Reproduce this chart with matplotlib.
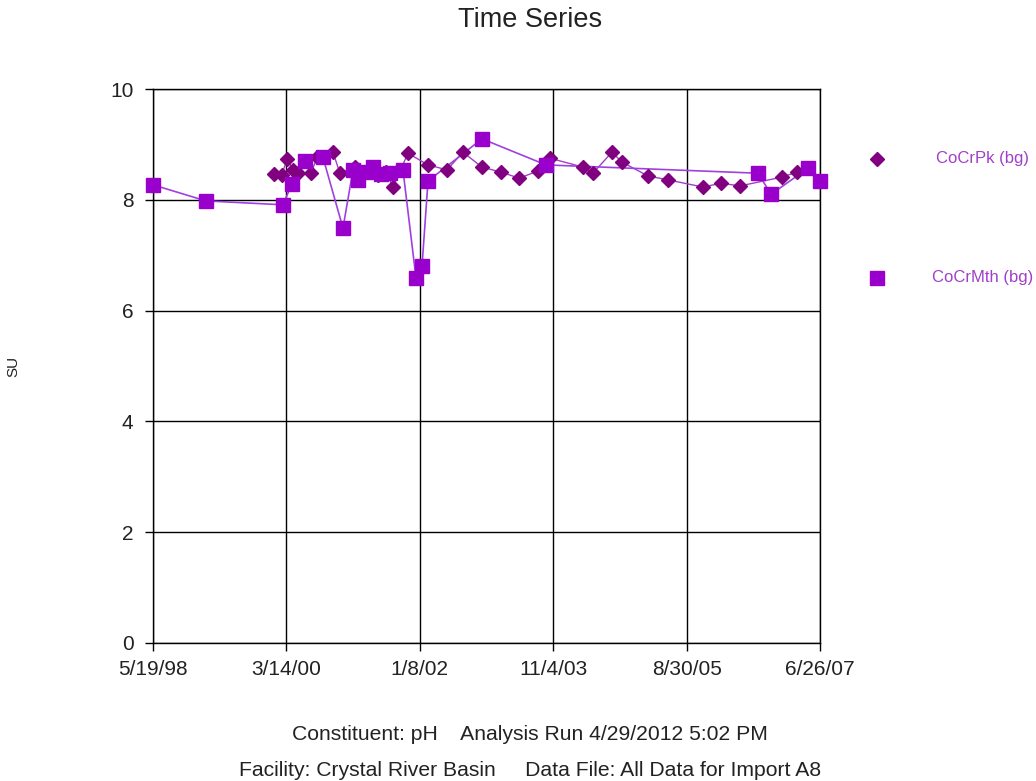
import matplotlib
matplotlib.use("Agg")
import matplotlib.pyplot as plt
import matplotlib.lines as mlines
import pandas as pd

plt.rcParams['font.family'] = ['Liberation Sans', 'DejaVu Sans']

# ---- data ----
pk_dates = ["2000-01-12", "2000-02-21", "2000-03-17", "2000-04-16", "2000-05-11",
            "2000-07-15", "2000-08-14", "2000-11-01", "2000-12-06", "2001-02-19",
            "2001-04-15", "2001-06-14", "2001-07-24", "2001-08-27", "2001-11-10",
            "2002-02-18", "2002-05-24", "2002-08-11", "2002-11-14", "2003-02-17",
            "2003-05-18", "2003-08-20", "2003-10-19", "2004-04-01", "2004-05-20",
            "2004-08-23", "2004-10-12", "2005-02-19", "2005-05-29", "2005-11-20",
            "2006-02-18", "2006-05-23", "2006-12-19", "2007-03-03"]
pk_values = [8.47, 8.45, 8.74, 8.54, 8.48,
             8.48, 8.77, 8.86, 8.48, 8.59,
             8.50, 8.45, 8.50, 8.23, 8.84,
             8.63, 8.54, 8.86, 8.59, 8.50,
             8.39, 8.52, 8.75, 8.59, 8.48,
             8.86, 8.68, 8.43, 8.36, 8.23,
             8.30, 8.25, 8.41, 8.50]

mth_dates = ["1998-05-19", "1999-02-07", "2000-02-26", "2000-04-11", "2000-06-15",
             "2000-09-12", "2000-12-21", "2001-02-09", "2001-03-06", "2001-04-15",
             "2001-05-20", "2001-06-29", "2001-08-12", "2001-10-16", "2001-12-20",
             "2002-01-19", "2002-02-18", "2002-11-14", "2003-09-29", "2006-08-21",
             "2006-10-25", "2007-04-27", "2007-06-26"]
mth_values = [8.27, 7.98, 7.91, 8.29, 8.70,
              8.77, 7.49, 8.54, 8.36, 8.50,
              8.59, 8.47, 8.48, 8.54, 6.59,
              6.80, 8.34, 9.10, 8.63, 8.48,
              8.10, 8.57, 8.34]

tick_dates = ["1998-05-19", "2000-03-14", "2002-01-08", "2003-11-04", "2005-08-30", "2007-06-26"]
tick_labels = ["5/19/98", "3/14/00", "1/8/02", "11/4/03", "8/30/05", "6/26/07"]
y_ticks = [0, 2, 4, 6, 8, 10]

series_names = ["CoCrPk (bg)", "CoCrMth (bg)"]

# ---- figure ----
fig = plt.figure(figsize=(10.36, 7.81), dpi=100)
ax = fig.add_axes([153/1036, 1 - 643/781, (820-153)/1036, (643-89)/781])

pk_x = pd.to_datetime(pk_dates)
mth_x = pd.to_datetime(mth_dates)

ax.plot(pk_x, pk_values, color='#a040c8', lw=1.0, zorder=3, clip_on=False)
ax.plot(pk_x, pk_values, linestyle='none', marker='D', ms=7.5, color='#800080',
        mec='#800080', zorder=4, clip_on=False)
ax.plot(mth_x, mth_values, color='#a040e0', lw=1.2, zorder=3, clip_on=False)
ax.plot(mth_x, mth_values, linestyle='none', marker='s', ms=10.5, color='#9900cc',
        mec='#9900cc', zorder=5, clip_on=False)

tx = pd.to_datetime(tick_dates)
ax.set_xlim(tx[0], tx[-1])
ax.set_ylim(0, 10)
ax.set_xticks(tx)
ax.set_xticklabels(tick_labels)
ax.set_yticks(y_ticks)
ax.set_yticklabels([str(v) for v in y_ticks])
ax.grid(True, color='black', lw=1.0)
ax.set_axisbelow(True)
for s in ax.spines.values():
    s.set_color('black')
    s.set_linewidth(1.0)
ax.tick_params(axis='both', direction='out', length=6, width=1, colors='black',
               labelsize=15)
ax.tick_params(axis='x', pad=6)
ax.tick_params(axis='y', pad=8)
for lbl in ax.get_xticklabels() + ax.get_yticklabels():
    lbl.set_color('#222222')

ax.set_ylabel("SU", fontsize=11, labelpad=0, color='#222222')
ax.yaxis.set_label_coords(-(153-20)/667, 0.5)

fig.text(530/1036, 1 - 20/781, "Time Series", ha='center', va='center', fontsize=19.5,
         color='#222222')
fig.text(530/1036, 1 - 734/781, "Constituent: pH    Analysis Run 4/29/2012 5:02 PM",
         ha='center', va='center', fontsize=15.2, color='#222222')
fig.text(530/1036, 1 - 770/781, "Facility: Crystal River Basin     Data File: All Data for Import A8",
         ha='center', va='center', fontsize=15.2, color='#222222')

# legend (manual, right side)
fig.lines.append(mlines.Line2D([877/1036], [1 - 159/781], transform=fig.transFigure,
                               marker='D', ms=7.5, color='#800080', linestyle='none'))
fig.lines.append(mlines.Line2D([877/1036], [1 - 278/781], transform=fig.transFigure,
                               marker='s', ms=10.5, color='#9900cc', linestyle='none'))
fig.text(983/1036, 1 - 159/781, series_names[0], ha='center', va='center', fontsize=12,
         color='#a040c8')
fig.text(983/1036, 1 - 278/781, series_names[1], ha='center', va='center', fontsize=12,
         color='#a040c8')

fig.savefig("out.png", dpi=100)
